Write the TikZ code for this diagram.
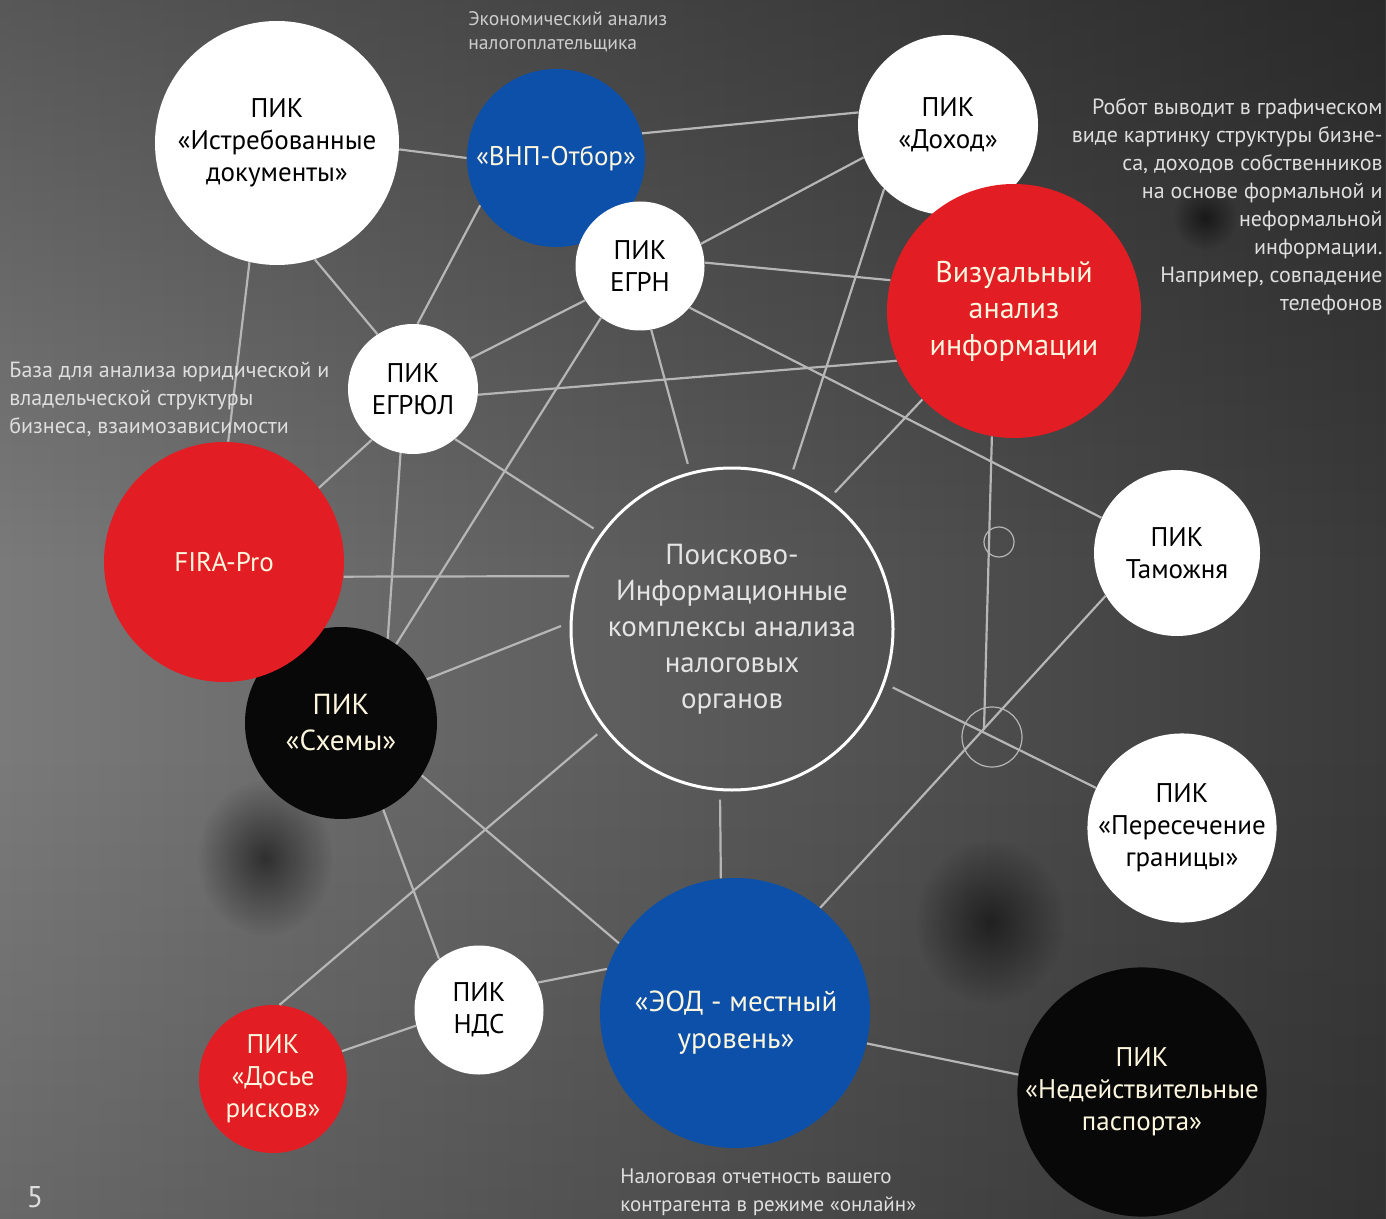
\documentclass[tikz,border=0pt]{standalone}
\usepackage{fontspec}
\setmainfont{PT Sans}
\usetikzlibrary{shapes}
\usetikzlibrary{positioning}
\usetikzlibrary{fadings}

\definecolor{pikred}{RGB}{226,30,36}
\definecolor{pikblue}{RGB}{12,80,170}
\definecolor{pikblack}{RGB}{8,8,8}
\definecolor{linkgray}{RGB}{182,182,182}
\definecolor{cream}{RGB}{252,246,222}
\definecolor{notegray}{RGB}{222,222,222}
\definecolor{bgleft}{RGB}{122,122,122}
\definecolor{bgmid}{RGB}{88,88,88}
\definecolor{bgright}{RGB}{58,58,58}

\tikzfading[name=smudge, inner color=transparent!45, outer color=transparent!100]
\tikzfading[name=fade down, top color=transparent!0, bottom color=transparent!100]
\tikzfading[name=fade up, top color=transparent!100, bottom color=transparent!0]

\begin{document}
\begin{tikzpicture}[x=0.5pt,y=-0.5pt,
	pik/.style={circle,inner sep=0pt,align=center,font=\fontsize{13.5}{16}\selectfont},
	white pik/.style={pik,fill=white,text=black},
	red pik/.style={pik,fill=pikred,text=cream},
	blue pik/.style={pik,fill=pikblue,text=cream},
	black pik/.style={pik,fill=pikblack,text=cream},
	big text/.style={font=\fontsize{14.5}{18}\selectfont},
	link/.style={color=linkgray,line width=1.1pt},
	ring/.style={circle,draw=linkgray,line width=0.6pt,inner sep=0pt},
	note/.style={text=notegray,inner sep=0pt,font=\fontsize{11}{14}\selectfont}]
	
	% background
	\useasboundingbox (0,0) rectangle (1386,1219);
	\shade[left color=bgleft,middle color=bgmid,right color=bgright] (0,0) rectangle (1386,1219);
	\fill[black,opacity=0.28,path fading=fade down] (0,0) rectangle (1386,560);
	\fill[black,opacity=0.14,path fading=fade up] (0,760) rectangle (1386,1219);
	\fill[black,path fading=smudge] (265,858) ellipse (68 and 78);
	\fill[black,path fading=smudge] (990,922) ellipse (75 and 82);
	\fill[black,path fading=smudge] (1205,218) ellipse (32 and 32);
	
	% circles
	\node[white pik,minimum size=122pt] at (277,143) (istreb) {ПИК\\«Истребованные\\документы»};
	\node[blue pik,minimum size=89pt] at (556,158) (vnp) {«ВНП-Отбор»};
	\node[white pik,minimum size=64.5pt] at (640,266) (egrn) {ПИК\\ЕГРН};
	\node[white pik,minimum size=90pt] at (948,125) (dokhod) {ПИК\\«Доход»};
	\node[red pik,minimum size=127pt,font=\fontsize{15}{18.2}\selectfont] at (1014,311) (vizual) {Визуальный\\анализ\\информации};
	\node[white pik,minimum size=65pt] at (413,389) (egryul) {ПИК\\ЕГРЮЛ};
	\node[black pik,minimum size=96pt,big text] at (341,723) (skhemy) {ПИК\\«Схемы»};
	\node[red pik,minimum size=120pt] at (224,562) (fira) {FIRA-Pro};
	\node[pik,big text,draw=white,line width=1.5pt,text={rgb,255:red,228;green,228;blue,228},minimum size=161pt,outer sep=5pt] at (732,629) (center) {Поисково-\\Информационные\\комплексы анализа\\налоговых\\органов};
	\node[white pik,minimum size=83pt] at (1177,553) (tamozh) {ПИК\\Таможня};
	\node[white pik,minimum size=84pt] at (1182,828) (granica) {ПИК\\«Пересечение\\границы»};
	\node[blue pik,minimum size=135pt] at (735,1013) (eod) {};
	\node[text=cream,align=center,font=\fontsize{14.5}{18.5}\selectfont] at (736,1023) (eod text) {«ЭОД - местный\\уровень»};
	\node[black pik,minimum size=119pt] at (1142,1092) (pasport) {ПИК\\«Недействительные\\паспорта»};
	\node[white pik,minimum size=64.5pt] at (479,1010) (nds) {ПИК\\НДС};
	\node[red pik,minimum size=74pt] at (273,1079) (dosye) {ПИК\\«Досье\\рисков»};
	
	\coordinate (hub) at (984,729);
	\node[ring,minimum size=30pt] at (992,737) (hubring) {};
	\node[ring,minimum size=15pt] at (999,542) (smallring) {};
	
	% links
	\path[link]
	(istreb.-3) edge (vnp.180)
	(istreb.257) edge (fira.88)
	(istreb.-72) edge (egryul.123)
	(vnp.212) edge (egryul.86)
	(vnp.16) edge (dokhod.172)
	(egrn.20) edge (dokhod.201)
	(egrn.3) edge (vizual.166)
	(egrn.-40) edge (tamozh.155)
	(egrn.-80) edge (center.105)
	(egrn.233) edge (skhemy.55)
	(egrn.212) edge (egryul.28)
	(egryul.-5) edge (vizual.203)
	(egryul.-50) edge (center.144)
	(egryul.259) edge (skhemy.61)
	(egryul.231) edge (fira.38)
	(fira.-7) edge (center.162)
	(skhemy.27) edge (center.179)
	(skhemy.-64) edge (nds.128)
	(skhemy.-33) edge (eod.149)
	(center.218) edge (dosye.85)
	(center.-94) edge (eod.96)
	(center.-20) edge (granica.155)
	(dokhod.225) edge (center.69)
	(vizual.224) edge (center.53)
	(vizual.260) edge (hub)
	(tamozh.211) edge (eod.51)
	(eod.-13) edge (pasport.172)
	(nds.25) edge (eod.161)
	(dosye.22) edge (nds.194)
	;
	
	% notes
	\node[note,anchor=north west,align=left,font=\fontsize{9.8}{12}\selectfont,text={rgb,255:red,205;green,205;blue,205}] at (468,11) (note vnp) {Экономический анализ\\налогоплательщика};
	\node[note,anchor=north east,align=right] at (1383,98) (note vizual) {Робот выводит в графическом\\виде картинку структуры бизне-\\са, доходов собственников\\на основе формальной и\\неформальной\\информации.\\Например, совпадение\\телефонов};
	\node[note,anchor=north west,align=left] at (9,362) (note fira) {База для анализа юридической и\\владельческой структуры\\бизнеса, взаимозависимости};
	\node[note,anchor=north west,align=left,font=\fontsize{10.5}{14}\selectfont] at (620,1168) (note eod) {Налоговая отчетность вашего\\контрагента в режиме «онлайн»};
	\node[note,anchor=base,font=\fontsize{15}{18}\selectfont] at (35,1207) (page) {5};
	
\end{tikzpicture}
\end{document}
